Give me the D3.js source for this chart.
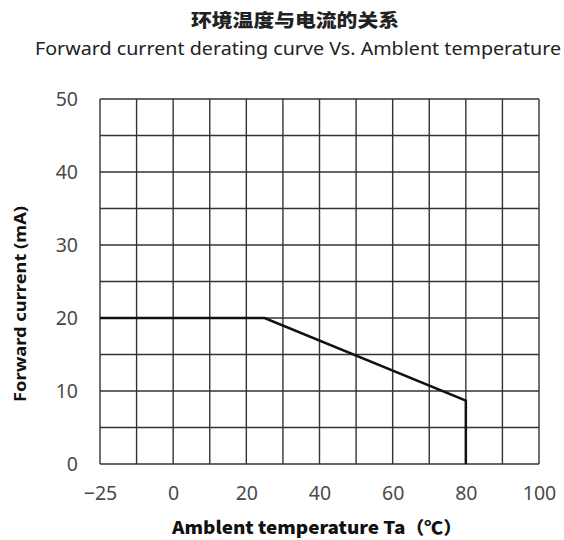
<!DOCTYPE html>
<html>
<head>
<meta charset="utf-8">
<script src="https://cdn.jsdelivr.net/npm/d3@7"></script>
<style>
  body { margin: 0; background: #fff; }
  svg { display: block; }
</style>
</head>
<body>
<svg id="chart" width="564" height="540"></svg>
<script>
'use strict';

// derating curve
const temps = [-25, 25, 80, 80];
const currents = [20, 20, 8.7, 0];

const xTicks = [-25, 0, 20, 40, 60, 80, 100];
const yTicks = [0, 10, 20, 30, 40, 50];
const xGrid = [-25, -12.5, 0, 10, 20, 30, 40, 50, 60, 70, 80, 90, 100];
const yGrid = [0, 5, 10, 15, 20, 25, 30, 35, 40, 45, 50];

const svg = d3.select('#chart');
const margin = {top: 99, right: 25, bottom: 76, left: 100};
const width = 564 - margin.left - margin.right,
      height = 540 - margin.top - margin.bottom;

// the left two columns hold 25 degrees, the rest 10 each
const x = d3.scaleLinear().domain([-25, 0, 100]).range([0, width * 2 / 12, width]);
const y = d3.scaleLinear().domain([0, 50]).range([height, 0]);

const g = svg.append('g').attr('transform', 'translate(' + margin.left + ',' + margin.top + ')');

g.selectAll('.vgrid')
  .data(xGrid)
  .enter().append('line')
    .attr('class', 'vgrid')
    .attr('x1', d => x(d)).attr('x2', d => x(d))
    .attr('y1', 0).attr('y2', height)
    .attr('stroke', '#333').attr('stroke-width', 1.4);

g.selectAll('.hgrid')
  .data(yGrid)
  .enter().append('line')
    .attr('class', 'hgrid')
    .attr('x1', 0).attr('x2', width)
    .attr('y1', d => y(d)).attr('y2', d => y(d))
    .attr('stroke', '#333').attr('stroke-width', 1.4);

const xAxis = g.append('g')
  .attr('transform', 'translate(0,' + height + ')')
  .call(d3.axisBottom(x).tickValues(xTicks).tickSize(0).tickPadding(22)
    .tickFormat(d => d < 0 ? '\u2212' + Math.abs(d) : d));
xAxis.select('.domain').remove();
xAxis.selectAll('text')
  .style('font-family', 'Noto Sans, sans-serif')
  .style('font-size', '19.5px')
  .attr('fill', '#4a4a4a');

const yAxis = g.append('g')
  .call(d3.axisLeft(y).tickValues(yTicks).tickSize(0).tickPadding(22));
yAxis.select('.domain').remove();
yAxis.selectAll('text')
  .style('font-family', 'Noto Sans, sans-serif')
  .style('font-size', '19.5px')
  .attr('fill', '#4a4a4a');

const line = d3.line()
  .x(d => x(d[0]))
  .y(d => y(d[1]));

g.append('path')
  .datum(d3.zip(temps, currents))
  .attr('d', line)
  .attr('fill', 'none')
  .attr('stroke', '#111')
  .attr('stroke-width', 2.5)
  .attr('stroke-linejoin', 'miter');

// titles
svg.append('text')
  .attr('x', 295).attr('y', 27)
  .attr('text-anchor', 'middle')
  .attr('textLength', 208)
  .attr('lengthAdjust', 'spacingAndGlyphs')
  .style('font-family', 'Noto Sans CJK SC, sans-serif')
  .style('font-weight', '900')
  .style('font-size', '18px')
  .attr('fill', '#222')
  .text('环境温度与电流的关系');

svg.append('text')
  .attr('x', 298).attr('y', 55)
  .attr('text-anchor', 'middle')
  .attr('textLength', 526)
  .attr('lengthAdjust', 'spacingAndGlyphs')
  .style('font-family', 'Noto Sans, sans-serif')
  .style('font-size', '18.5px')
  .attr('fill', '#222')
  .text('Forward current derating curve Vs. Amblent temperature');

svg.append('text')
  .attr('x', 317).attr('y', 534)
  .attr('text-anchor', 'middle')
  .attr('textLength', 290)
  .attr('lengthAdjust', 'spacingAndGlyphs')
  .style('font-family', 'Noto Sans CJK SC, sans-serif')
  .style('font-weight', '900')
  .style('font-size', '17.5px')
  .attr('fill', '#111')
  .text('Amblent temperature Ta（℃）');

svg.append('text')
  .attr('transform', 'translate(26,304) rotate(-90)')
  .attr('text-anchor', 'middle')
  .attr('textLength', 196)
  .attr('lengthAdjust', 'spacingAndGlyphs')
  .style('font-family', 'Noto Sans, sans-serif')
  .style('font-weight', 'bold')
  .style('font-size', '16px')
  .attr('fill', '#111')
  .text('Forward current (mA)');
</script>
</body>
</html>
